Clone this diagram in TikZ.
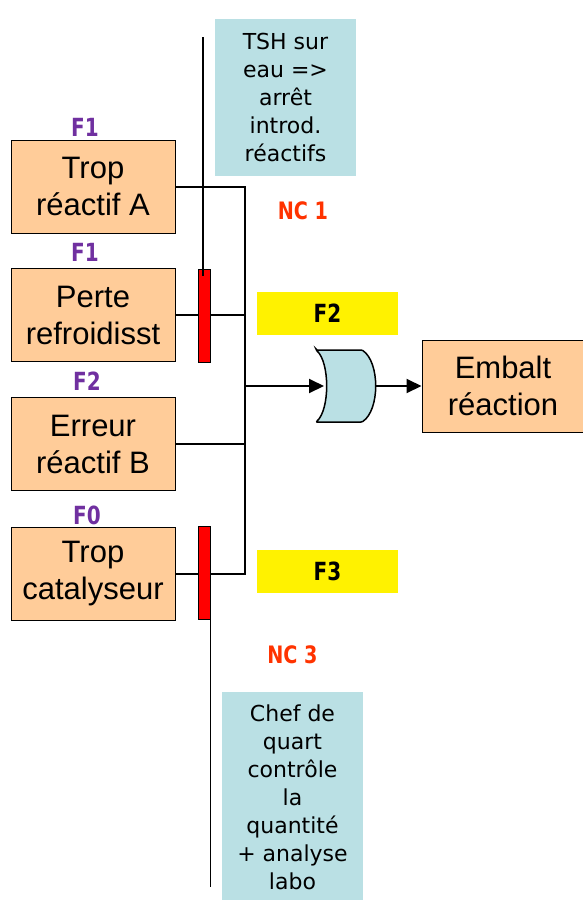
\documentclass[tikz,border=0pt]{standalone}
\usepackage{fontspec}
\setmainfont{Liberation Sans}
\newfontfamily\lucfont{DejaVu Sans}
\newfontfamily\lucnarrow[FakeStretch=0.8]{DejaVu Sans}
\usetikzlibrary{arrows.meta}

\begin{document}
\begin{tikzpicture}[x=1pt, y=-1pt,
    evt/.style={draw=black, line width=1pt, fill=evtfill, minimum width=164pt, minimum height=93pt, inner sep=0pt, align=center, font=\fontsize{31}{37}\selectfont},
    mesure/.style={fill=mesfill, minimum width=141pt, minimum height=157pt, inner sep=0pt, align=center, font=\lucfont\fontsize{22}{28}\selectfont},
    freq/.style={inner sep=0pt, text=freqcol, font=\lucnarrow\bfseries\fontsize{25}{27}\selectfont},
    nc/.style={inner sep=0pt, text=nccol, font=\lucnarrow\bfseries\fontsize{24}{26}\selectfont},
    freqbox/.style={fill=yellow, minimum width=141pt, minimum height=43pt, inner sep=0pt, font=\lucnarrow\bfseries\fontsize{25}{27}\selectfont},
    barrier/.style={draw=black, line width=1pt, fill=red, minimum width=12pt, minimum height=93pt, inner sep=0pt},
    conn/.style={black, line width=2pt},
    pole/.style={black, line width=1.5pt},
    tip/.style={-{Triangle[length=15pt,width=14pt]}}]
    \definecolor{evtfill}{RGB}{255,204,153}
    \definecolor{mesfill}{RGB}{186,224,228}
    \definecolor{freqcol}{RGB}{112,48,160}
    \definecolor{nccol}{RGB}{255,51,0}

    \useasboundingbox (0,0) rectangle (582,900);

    % events
    \node[evt] (tropA) at (93,186.5) {Trop\\réactif A};
    \node[evt] (perte) at (93,315) {Perte\\refroidisst};
    \node[evt] (erreur) at (93,444) {Erreur\\réactif B};
    \node[evt] (catal) at (93,574) {Trop\\catalyseur};
    \node[evt, minimum width=162pt, minimum height=92pt] (embalt) at (503,386) {Embalt\\réaction};

    % frequencies
    \node[freq] (f1a) at (85,127.5) {F1};
    \node[freq] (f1b) at (85,252) {F1};
    \node[freq] (f2) at (87,381) {F2};
    \node[freq] (f0) at (87,515) {F0};

    % safety measures
    \node[mesure] (tsh) at (285.5,97.5) {TSH sur\\eau =>\\arrêt\\introd.\\réactifs};
    \node[mesure, minimum height=210pt] (chef) at (292.5,797) {Chef de\\quart\\contrôle\\la\\quantité\\+ analyse\\labo};
    \node[nc] (nc1) at (303,210.5) {NC 1};
    \node[nc] (nc3) at (292.5,655) {NC 3};
    \node[freqbox] (fb2) at (327.5,313.5) {F2};
    \node[freqbox] (fb3) at (327.5,571.5) {F3};

    % or gate
    \coordinate (gin) at (324,386);
    \coordinate (gout) at (375,386);
    \draw[line width=1.5pt, fill=mesfill, rounded corners=1pt] (316,350) -- (362,350)
        .. controls (380,362) and (380,410) .. (362,422) -- (316,422)
        .. controls (330,410) and (330,362) .. (316,350) -- cycle;

    % connectors
    \coordinate (bus) at (245,386);
    \draw[conn] (tropA.east) -| (bus);
    \draw[conn] (perte.east) -| (bus);
    \draw[conn] (erreur.east) -| (bus);
    \draw[conn] (catal.east) -| (bus);
    \draw[conn, tip] (bus) -- (gin);
    \draw[conn, tip] (gout) -- (embalt.west);

    % barriers
    \node[barrier] (bar1) at (204,315.5) {};
    \node[barrier] (bar3) at (204,572.5) {};
    \coordinate (top1) at (203,37);
    \coordinate (bot3) at (210.5,887);
    \draw[pole] (top1) -- ([yshift=-7pt]bar1.north -| top1);
    \draw[pole] ([yshift=21pt]bar3.south east -| bot3) -- (bot3);
\end{tikzpicture}
\end{document}
